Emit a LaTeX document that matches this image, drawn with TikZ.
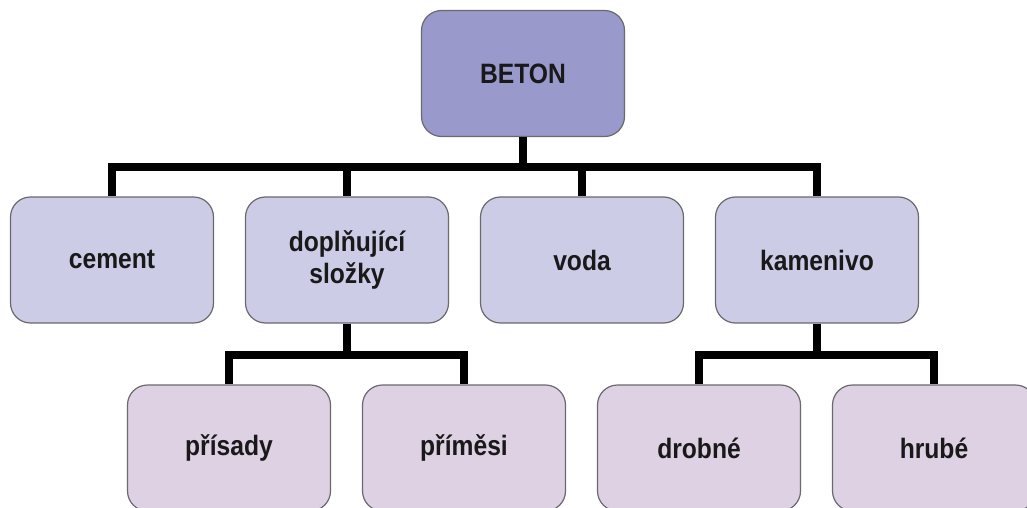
\documentclass[tikz,border=0pt]{standalone}
\usepackage{fontspec}
\setmainfont{Liberation Sans}[FakeStretch=0.88]
\usetikzlibrary{positioning}
\definecolor{betonfill}{RGB}{153,153,204}
\definecolor{slozkafill}{RGB}{204,204,230}
\definecolor{podfill}{RGB}{221,209,227}
\definecolor{ramec}{RGB}{105,105,110}
\tikzset{
  box/.style={rectangle, rounded corners=20pt, draw=ramec, line width=1.2pt,
    minimum width=203pt, minimum height=126pt, align=center,
    font=\fontsize{28}{32}\selectfont\bfseries, text=black!90},
  bus/.style={draw=black, line width=8pt, line join=miter}
}
\begin{document}
\begin{tikzpicture}[node distance=235pt]
      \clip (0,0) rectangle (1027pt,-508pt);

      \node [box, fill=betonfill] (beton) at (523pt,-73.5pt) {BETON};

      \node [box, fill=slozkafill] (cement) at (112pt,-260pt) {cement};
      \node [box, fill=slozkafill, right of=cement] (doplnujici) {doplňující\\složky};
      \node [box, fill=slozkafill, right of=doplnujici] (voda) {voda};
      \node [box, fill=slozkafill, right of=voda] (kamenivo) {kamenivo};

      \node [box, fill=podfill] (prisady) at (229pt,-448pt) {přísady};
      \node [box, fill=podfill, right of=prisady] (primesi) {příměsi};
      \node [box, fill=podfill, right of=primesi] (drobne) {drobné};
      \node [box, fill=podfill, right of=drobne] (hrube) {hrubé};

      \draw [bus] (beton.south) -- ++(0,-30pt) -| (cement.north);
      \draw [bus] (beton.south) -- ++(0,-30pt) -| (doplnujici.north);
      \draw [bus] (beton.south) -- ++(0,-30pt) -| (voda.north);
      \draw [bus] (beton.south) -- ++(0,-30pt) -| (kamenivo.north);

      \draw [bus] (doplnujici.south) -- ++(0,-31pt) -| (prisady.north);
      \draw [bus] (doplnujici.south) -- ++(0,-31pt) -| (primesi.north);

      \draw [bus] (kamenivo.south) -- ++(0,-31pt) -| (drobne.north);
      \draw [bus] (kamenivo.south) -- ++(0,-31pt) -| (hrube.north);
  \end{tikzpicture}
\end{document}
